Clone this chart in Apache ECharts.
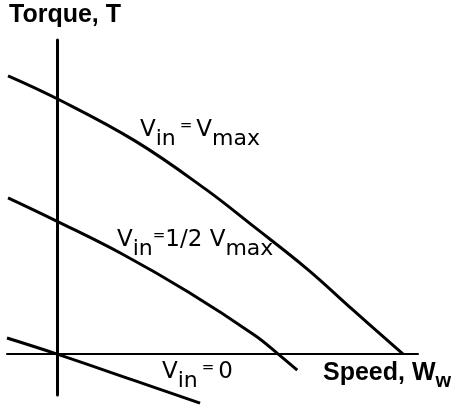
<!DOCTYPE html>
<html>
<head>
<meta charset="utf-8">
<style>
  html, body { margin: 0; padding: 0; background: #fff; }
  #chart { width: 455px; height: 405px; }
</style>
<script src="https://cdn.jsdelivr.net/npm/echarts@6/dist/echarts.min.js"></script>
</head>
<body>
<div id="chart"></div>
<script>
// torque-speed curves, speed scaled so no-load speed at Vmax = 100,
// torque scaled so stall torque at Vmax = 100
const speedMax = [-14.2, 0, 22.5, 42.8, 56.6, 72.3, 85.5, 100]
const torqueMax = [109, 100, 83.5, 64.7, 50.2, 33.3, 17.3, 0]

const speedHalf = [-14.2, 0, 18.8, 37.9, 57.2, 63.9, 69.4]
const torqueHalf = [61.2, 52, 39.2, 24.3, 7.3, 0, -6.3]

const speedZero = [-14.5, 0, 22, 41.3]
const torqueZero = [6.3, 0, -10.2, -19.2]

const pairs = (xs, ys) => xs.map((x, i) => [x, ys[i]])

const chart = echarts.init(document.getElementById('chart'))

const rich = {
  v: { fontSize: 23, fontFamily: 'DejaVu Sans', lineHeight: 23, verticalAlign: 'top', fill: '#000' },
  s: { fontSize: 22, fontFamily: 'DejaVu Sans', lineHeight: 22, verticalAlign: 'top', padding: [9, 0, 0, 0], fill: '#000' },
  // "=" with a little air around it
  e: { fontSize: 15, fontFamily: 'DejaVu Sans', lineHeight: 23, verticalAlign: 'top', padding: [0, 4, 0, 4], fill: '#000' },
  e0: { fontSize: 15, fontFamily: 'DejaVu Sans', lineHeight: 23, verticalAlign: 'top', fill: '#000' },
  t: { fontSize: 25, fontFamily: 'Liberation Sans', fontWeight: 'bold', lineHeight: 25, verticalAlign: 'top', fill: '#000' },
  ts: { fontSize: 20, fontFamily: 'Liberation Sans', fontWeight: 'bold', lineHeight: 20, verticalAlign: 'top', padding: [10, 0, 0, 0], fill: '#000' }
}

function lineSeries(name, xs, ys) {
  return {
    name: name,
    type: 'line',
    data: pairs(xs, ys),
    showSymbol: false,
    smooth: 0.4,
    clip: false,
    lineStyle: { color: '#000', width: 3 },
    silent: true
  }
}

function label(text, left, top) {
  return {
    type: 'text',
    left: left,
    top: top,
    style: { text: text, rich: rich }
  }
}

chart.setOption({
  animation: false,
  backgroundColor: '#fff',
  grid: { left: 7, right: 37, top: 40, bottom: 10 },
  xAxis: {
    type: 'value',
    min: -14.5,
    max: 104.3,
    axisLine: { onZero: true, lineStyle: { color: '#000', width: 2 } },
    axisTick: { show: false },
    axisLabel: { show: false },
    splitLine: { show: false }
  },
  yAxis: {
    type: 'value',
    min: -16,
    max: 123,
    axisLine: { show: true, onZero: true, lineStyle: { color: '#000', width: 3 } },
    axisTick: { show: false },
    axisLabel: { show: false },
    splitLine: { show: false }
  },
  series: [
    lineSeries('Vmax', speedMax, torqueMax),
    lineSeries('Half', speedHalf, torqueHalf),
    lineSeries('Zero', speedZero, torqueZero)
  ],
  graphic: [
    label('{t|Torque, T}', 9, 3),
    label('{v|V}{s|in}{e|=}{v|V}{s|max}', 140, 119),
    label('{v|V}{s|in}{e0|=}{v|1/2 V}{s|max}', 117, 229),
    label('{v|V}{s|in}{e|=}{v|0}', 162, 361),
    label('{t|Speed, W}{ts|w}', 323, 361)
  ]
})
</script>
</body>
</html>
